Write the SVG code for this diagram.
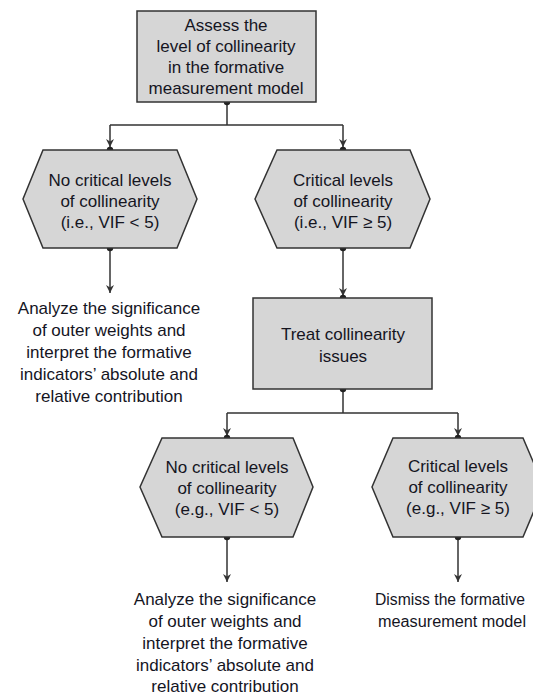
<svg xmlns="http://www.w3.org/2000/svg" width="533" height="695" viewBox="0 0 533 695">
<defs>
<marker id="arr" viewBox="0 0 10 10" refX="10" refY="5" markerWidth="8" markerHeight="8" markerUnits="userSpaceOnUse" orient="auto">
<path d="M0,0 L10,5 L0,10 L3,5 Z" fill="#333"/>
</marker>
<style>
.shape{fill:#d6d6d6;stroke:#333;stroke-width:1.5}
.t{font-family:"Liberation Sans",Arial,sans-serif;font-size:17px;fill:#15151f;text-anchor:middle}
.ts{font-family:"Liberation Sans",Arial,sans-serif;font-size:16px;fill:#15151f;text-anchor:start}
.c{fill:none;stroke:#333;stroke-width:1.5}
.d{fill:#222}
</style>
</defs>
<rect width="533" height="695" fill="#fff"/>
<g id="connectors">
<path class="c" d="M227,102 V125 M110,125 H343"/>
<path class="c" d="M110,125 V147" marker-end="url(#arr)"/>
<path class="c" d="M343,125 V147" marker-end="url(#arr)"/>
<path class="c" d="M110,248 V293" marker-end="url(#arr)"/>
<path class="c" d="M343,248 V296" marker-end="url(#arr)"/>
<path class="c" d="M343,389 V413 M227,413 H458"/>
<path class="c" d="M227,413 V436" marker-end="url(#arr)"/>
<path class="c" d="M458,413 V436" marker-end="url(#arr)"/>
<path class="c" d="M227,537 V582" marker-end="url(#arr)"/>
<path class="c" d="M458,537 V582" marker-end="url(#arr)"/>
<circle class="d" cx="227" cy="102" r="3.2"/>
<circle class="d" cx="110" cy="150" r="3.2"/>
<circle class="d" cx="343" cy="150" r="3.2"/>
<circle class="d" cx="110" cy="248" r="3.2"/>
<circle class="d" cx="343" cy="248" r="3.2"/>
<circle class="d" cx="343" cy="298" r="3.2"/>
<circle class="d" cx="343" cy="389" r="3.2"/>
<circle class="d" cx="227" cy="438" r="3.2"/>
<circle class="d" cx="458" cy="438" r="3.2"/>
<circle class="d" cx="227" cy="537" r="3.2"/>
<circle class="d" cx="458" cy="537" r="3.2"/>
</g>
<g id="assess">
<rect class="shape" x="137" y="11" width="179" height="91"/>
<text class="t" x="226" y="31">Assess the</text>
<text class="t" x="226" y="52">level of collinearity</text>
<text class="t" x="226" y="73">in the formative</text>
<text class="t" x="226" y="94">measurement model</text>
</g>
<g id="nocrit1">
<polygon class="shape" points="43,150 177,150 197,199 177,248 43,248 23,199"/>
<text class="t" x="110" y="186">No critical levels</text>
<text class="t" x="110" y="207">of collinearity</text>
<text class="t" x="110" y="228">(i.e., VIF &lt; 5)</text>
</g>
<g id="crit1">
<polygon class="shape" points="277,150 410,150 430,199 410,248 277,248 255,199"/>
<text class="t" x="343" y="186">Critical levels</text>
<text class="t" x="343" y="207">of collinearity</text>
<text class="t" x="343" y="228">(i.e., VIF ≥ 5)</text>
</g>
<g id="analyze1">
<text class="t" x="109" y="314">Analyze the significance</text>
<text class="t" x="109" y="336">of outer weights and</text>
<text class="t" x="109" y="358">interpret the formative</text>
<text class="t" x="109" y="380">indicators’ absolute and</text>
<text class="t" x="109" y="402">relative contribution</text>
</g>
<g id="treat">
<rect class="shape" x="253" y="298" width="179" height="91"/>
<text class="t" x="343" y="340">Treat collinearity</text>
<text class="t" x="343" y="362">issues</text>
</g>
<g id="nocrit2">
<polygon class="shape" points="162,438 293,438 313,487 293,537 162,537 140,487"/>
<text class="t" x="227" y="473">No critical levels</text>
<text class="t" x="227" y="494">of collinearity</text>
<text class="t" x="227" y="515">(e.g., VIF &lt; 5)</text>
</g>
<g id="crit2">
<polygon class="shape" points="393,438 523,438 544,487 523,537 393,537 372,487"/>
<text class="t" x="458" y="472">Critical levels</text>
<text class="t" x="458" y="493">of collinearity</text>
<text class="t" x="458" y="514">(e.g., VIF ≥ 5)</text>
</g>
<g id="analyze2">
<text class="t" x="225" y="605">Analyze the significance</text>
<text class="t" x="225" y="627">of outer weights and</text>
<text class="t" x="225" y="649">interpret the formative</text>
<text class="t" x="225" y="671">indicators’ absolute and</text>
<text class="t" x="225" y="692">relative contribution</text>
</g>
<g id="dismiss">
<text class="ts" x="375" y="605" textLength="150" lengthAdjust="spacingAndGlyphs">Dismiss the formative</text>
<text class="ts" x="378" y="627" textLength="148" lengthAdjust="spacingAndGlyphs">measurement model</text>
</g>
</svg>
